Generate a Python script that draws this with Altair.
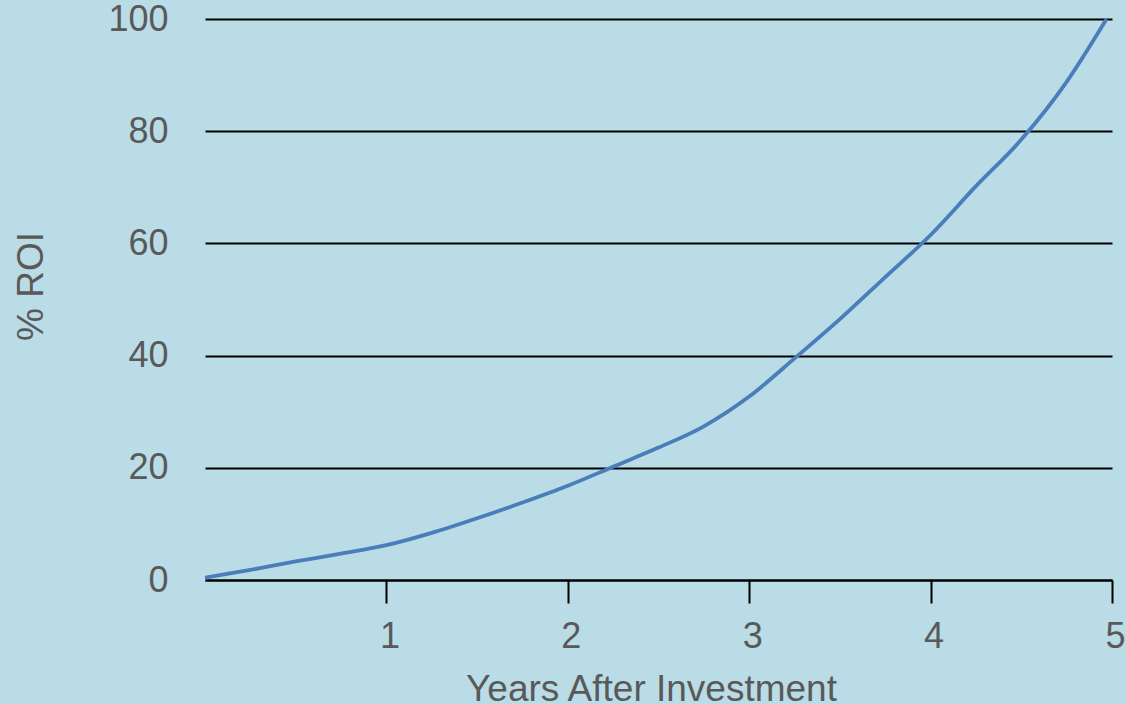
import altair as alt
import pandas as pd

years = [0, 0.25, 0.5, 0.75, 1, 1.25, 1.5, 1.75, 2, 2.25, 2.5, 2.75, 3, 3.25,
         3.5, 3.75, 4, 4.25, 4.5, 4.75, 4.97]
roi = [0.4, 1.8, 3.3, 4.7, 6.2, 8.4, 11.0, 13.8, 16.8, 20.2, 23.6, 27.4, 32.7,
       39.5, 46.5, 54, 61.5, 70.2, 78.5, 88.8, 100]
x_ticks = [1, 2, 3, 4, 5]
y_ticks = [0, 20, 40, 60, 80, 100]

df = pd.DataFrame({"Years": years, "ROI": roi})

FONT = "Liberation Sans"
TXT = "#595959"
BG = "#badce6"

chart = alt.Chart(df).mark_line(
    color="#4a7ebb", strokeWidth=3.8, interpolate="monotone"
).encode(
    x=alt.X("Years:Q",
            scale=alt.Scale(domain=[0, 5], nice=False, zero=True),
            axis=alt.Axis(values=x_ticks, title="Years After Investment",
                          grid=False, domainColor="black", domainWidth=2,
                          tickColor="black", tickWidth=2, tickSize=23,
                          labelPadding=16, labelFontSize=36, labelColor=TXT,
                          labelFont=FONT, labelFlush=False, labelOffset=3,
                          titleFont=FONT, titleFontSize=37,
                          titleFontWeight="normal", titleColor=TXT,
                          titleX=446, titleY=120, titleBaseline="alphabetic")),
    y=alt.Y("ROI:Q",
            scale=alt.Scale(domain=[0, 100], nice=False),
            axis=alt.Axis(values=y_ticks, title="% ROI", grid=True,
                          gridColor="black", gridWidth=2, gridOpacity=1,
                          domain=False, ticks=False, labelPadding=37,
                          labelFontSize=36, labelColor=TXT, labelFont=FONT,
                          titleFont=FONT, titleFontSize=37,
                          titleFontWeight="normal", titleColor=TXT,
                          titlePadding=57, titleY=267)),
).properties(
    width=907, height=561,
    background=BG,
    autosize=alt.AutoSizeParams(type="none"),
    padding={"left": 205, "top": 19, "right": 14, "bottom": 124},
).configure_view(stroke=None, fill=BG)

chart.save("out.html", embed_options={"renderer": "svg", "actions": False})
